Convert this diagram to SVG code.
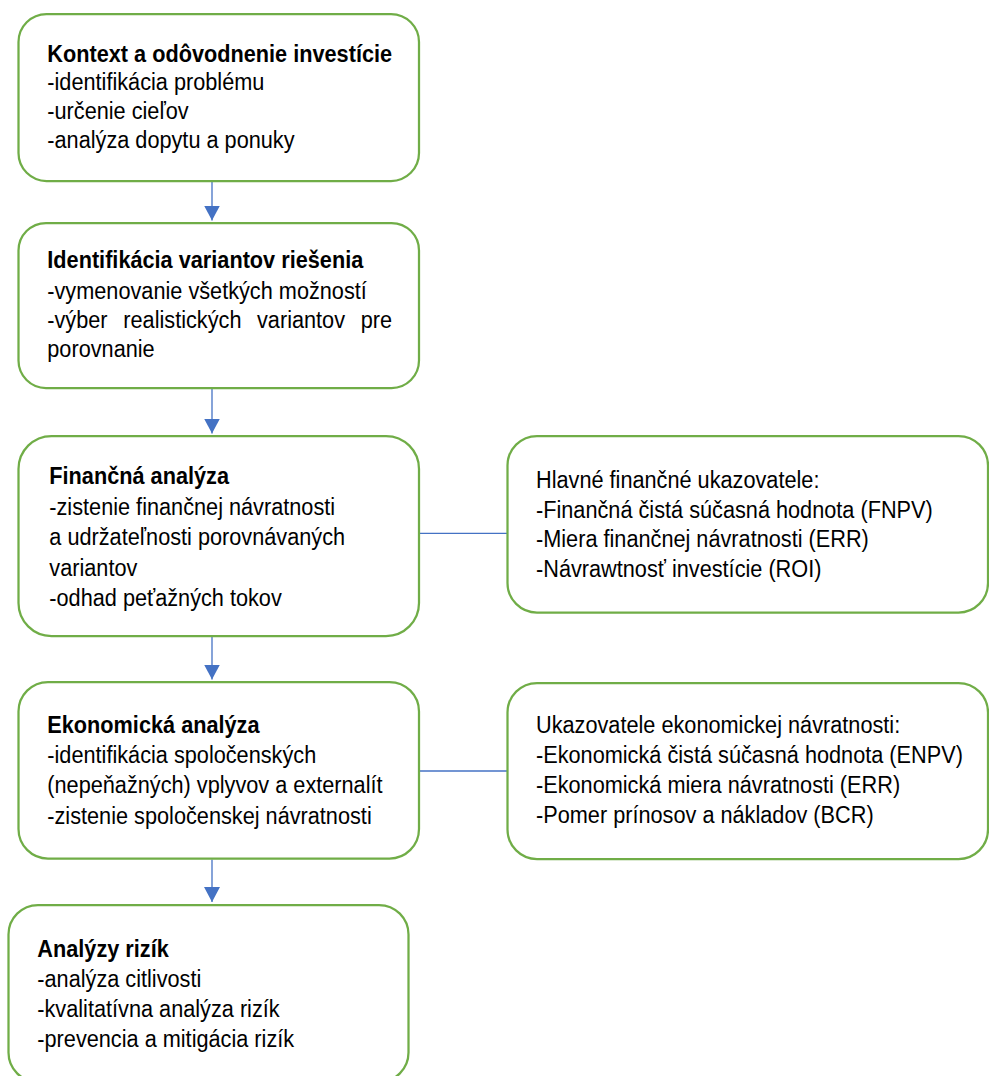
<svg xmlns="http://www.w3.org/2000/svg" width="989" height="1076" viewBox="0 0 989 1076">
<style>
.box{fill:#ffffff;stroke:#70AD47;stroke-width:2.25}
.t{font-family:"Liberation Sans",Arial,sans-serif;font-size:21.7px;fill:#000000}
.b{font-weight:bold}
.con{stroke:#4472C4;stroke-width:1.3;fill:none}
.ah{fill:#4472C4;stroke:none}
</style>
<defs>
<marker id="arr" markerUnits="userSpaceOnUse" markerWidth="16" markerHeight="15" refX="8" refY="15" orient="0" viewBox="0 0 16 15">
<path class="ah" d="M0,0 L16,0 L8,15 Z"/>
</marker>
</defs>
<rect width="989" height="1076" fill="#ffffff"/>
<g id="connectors">
<line class="con" x1="212" y1="182" x2="212" y2="220.5" marker-end="url(#arr)"/>
<line class="con" x1="212" y1="389" x2="212" y2="433.5" marker-end="url(#arr)"/>
<line class="con" x1="212" y1="637" x2="212" y2="679.5" marker-end="url(#arr)"/>
<line class="con" x1="212" y1="859.5" x2="212" y2="902" marker-end="url(#arr)"/>
<line class="con" x1="420" y1="533.3" x2="507" y2="533.3"/>
<line class="con" x1="420" y1="771" x2="507" y2="771"/>
</g>
<g id="n1">
<rect class="box" x="18.5" y="14" width="400.5" height="167" rx="28" ry="28"/>
<text class="t b" x="47.3" y="61.7" transform="matrix(1,0,0,1.07,0,-4.319)">Kontext a odôvodnenie investície</text>
<text class="t" x="47.3" y="90.5" transform="matrix(1,0,0,1.07,0,-6.335)">-identifikácia problému</text>
<text class="t" x="47.3" y="119.3" transform="matrix(1,0,0,1.07,0,-8.351)">-určenie cieľov</text>
<text class="t" x="47.3" y="148.1" transform="matrix(1,0,0,1.07,0,-10.367)">-analýza dopytu a ponuky</text>
</g>
<g id="n2">
<rect class="box" x="18.5" y="223" width="400.5" height="165" rx="27.5" ry="27.5"/>
<text class="t b" x="47.3" y="268.3" transform="matrix(1,0,0,1.07,0,-18.781)">Identifikácia variantov riešenia</text>
<text class="t" x="47.3" y="299" transform="matrix(1,0,0,1.07,0,-20.93)">-vymenovanie všetkých možností</text>
<text class="t" y="328.3" transform="matrix(1,0,0,1.07,0,-22.981)"><tspan x="47.3">-výber</tspan><tspan x="123.3">realistických</tspan><tspan x="257">variantov</tspan><tspan x="360.7">pre</tspan></text>
<text class="t" x="47.3" y="357.3" transform="matrix(1,0,0,1.07,0,-25.011)">porovnanie</text>
</g>
<g id="n3">
<rect class="box" x="18.5" y="436" width="400.5" height="200" rx="33" ry="33"/>
<text class="t b" x="49.3" y="484.3" transform="matrix(1,0,0,1.07,0,-33.901)">Finančná analýza</text>
<text class="t" x="49.3" y="515" transform="matrix(1,0,0,1.07,0,-36.05)">-zistenie finančnej návratnosti</text>
<text class="t" x="49.3" y="545.5" transform="matrix(1,0,0,1.07,0,-38.185)">a udržateľnosti porovnávaných</text>
<text class="t" x="49.3" y="576" transform="matrix(1,0,0,1.07,0,-40.32)">variantov</text>
<text class="t" x="49.3" y="606.5" transform="matrix(1,0,0,1.07,0,-42.455)">-odhad peťažných tokov</text>
</g>
<g id="n4">
<rect class="box" x="18.5" y="682" width="400.5" height="176.5" rx="29.5" ry="29.5"/>
<text class="t b" x="47.3" y="733.3" transform="matrix(1,0,0,1.07,0,-51.331)">Ekonomická analýza</text>
<text class="t" x="47.3" y="763.3" transform="matrix(1,0,0,1.07,0,-53.431)">-identifikácia spoločenských</text>
<text class="t" x="47.3" y="793.3" transform="matrix(1,0,0,1.07,0,-55.531)">(nepeňažných) vplyvov a externalít</text>
<text class="t" x="47.3" y="824" transform="matrix(1,0,0,1.07,0,-57.68)">-zistenie spoločenskej návratnosti</text>
</g>
<g id="n5">
<rect class="box" x="8.5" y="905" width="400" height="177" rx="29.5" ry="29.5"/>
<text class="t b" x="37.3" y="956.7" transform="matrix(1,0,0,1.07,0,-66.969)">Analýzy rizík</text>
<text class="t" x="37.3" y="986.7" transform="matrix(1,0,0,1.07,0,-69.069)">-analýza citlivosti</text>
<text class="t" x="37.3" y="1016.7" transform="matrix(1,0,0,1.07,0,-71.169)">-kvalitatívna analýza rizík</text>
<text class="t" x="37.3" y="1046.7" transform="matrix(1,0,0,1.07,0,-73.269)">-prevencia a mitigácia rizík</text>
</g>
<g id="r1">
<rect class="box" x="507.5" y="436" width="480.5" height="176.5" rx="29.5" ry="29.5"/>
<text class="t" x="536" y="488.3" transform="matrix(1,0,0,1.07,0,-34.181)">Hlavné finančné ukazovatele:</text>
<text class="t" x="536" y="517.7" transform="matrix(1,0,0,1.07,0,-36.239)">-Finančná čistá súčasná hodnota (FNPV)</text>
<text class="t" x="536" y="546.7" transform="matrix(1,0,0,1.07,0,-38.269)">-Miera finančnej návratnosti (ERR)</text>
<text class="t" x="536" y="576.7" transform="matrix(1,0,0,1.07,0,-40.369)">-Návrawtnosť investície (ROI)</text>
</g>
<g id="r2">
<rect class="box" x="507.5" y="683" width="480.5" height="176" rx="29.5" ry="29.5"/>
<text class="t" x="536" y="733.3" transform="matrix(1,0,0,1.07,0,-51.331)">Ukazovatele ekonomickej návratnosti:</text>
<text class="t" x="536" y="763.3" transform="matrix(1,0,0,1.07,0,-53.431)">-Ekonomická čistá súčasná hodnota (ENPV)</text>
<text class="t" x="536" y="793.3" transform="matrix(1,0,0,1.07,0,-55.531)">-Ekonomická miera návratnosti (ERR)</text>
<text class="t" x="536" y="823.3" transform="matrix(1,0,0,1.07,0,-57.631)">-Pomer prínosov a nákladov (BCR)</text>
</g>
</svg>
